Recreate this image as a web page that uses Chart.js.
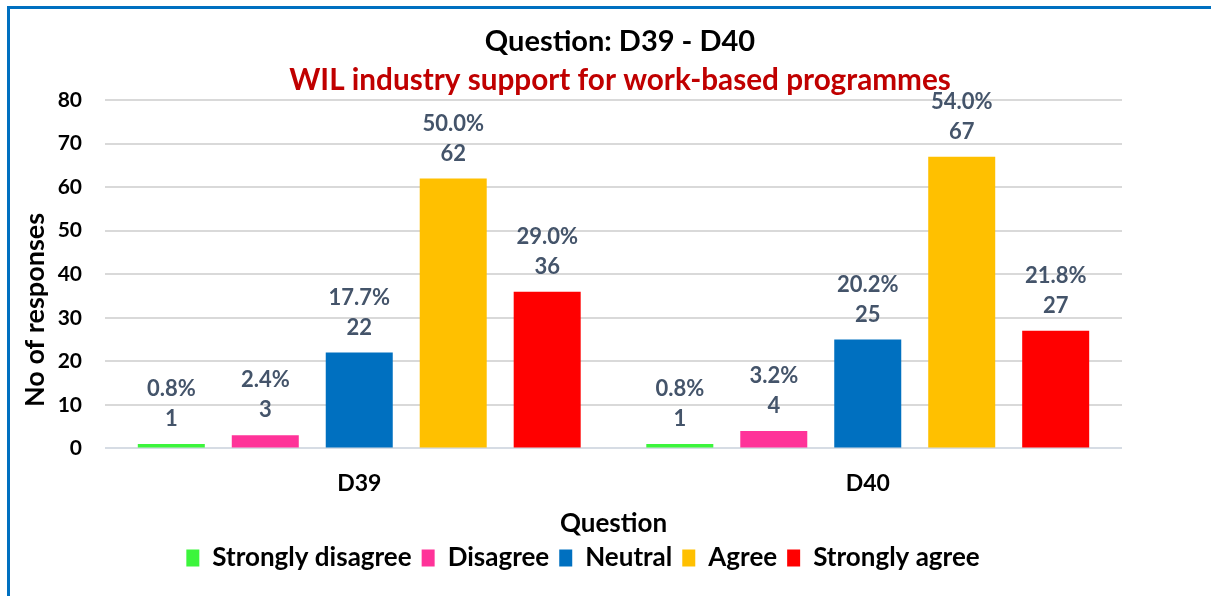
<!DOCTYPE html>
<html>
<head>
<meta charset="utf-8">
<title>WIL industry support for work-based programmes</title>
<script src="https://cdn.jsdelivr.net/npm/chart.js@4.4.1/dist/chart.umd.min.js"></script>
<style>
  html, body { margin: 0; padding: 0; background: #fff; overflow: hidden; }
  #wrap { position: relative; width: 1211px; height: 596px; }
  #frame {
    position: absolute; left: 7px; top: 6px; width: 1210px; height: 600px;
    border-top: 3px solid #0070C0; border-left: 3px solid #0070C0;
    pointer-events: none;
  }
  canvas { position: absolute; left: 0; top: 0; }
</style>
</head>
<body>
<div id="wrap">
  <canvas id="barChart" width="1211" height="596"></canvas>
  <div id="frame"></div>
</div>
<script>
// Questions on the x axis
var questions = ['D39', 'D40'];

// Number of responses per answer, one value per question
var stronglyDisagree = [1, 1];
var disagree = [3, 4];
var neutral = [22, 25];
var agree = [62, 67];
var stronglyAgree = [36, 27];

var yTicks = [0, 10, 20, 30, 40, 50, 60, 70, 80];

var FONT = 'Lato, "Liberation Sans", sans-serif';
var labelColor = '#44546A';

// total responses per question, used for the percentage line of each label
function totals() {
  return questions.map(function(q, i) {
    return stronglyDisagree[i] + disagree[i] + neutral[i] + agree[i] + stronglyAgree[i];
  });
}

// Two-line value labels above each bar: percentage, then count
var barLabels = {
  id: 'barLabels',
  afterDatasetsDraw: function(chart) {
    var ctx = chart.ctx;
    var sums = totals();
    ctx.save();
    ctx.fillStyle = labelColor;
    ctx.font = 'bold 22px ' + FONT;
    ctx.textAlign = 'center';
    ctx.textBaseline = 'middle';
    chart.data.datasets.forEach(function(ds, d) {
      chart.getDatasetMeta(d).data.forEach(function(bar, i) {
        var v = ds.data[i];
        var pct = (v / sums[i] * 100).toFixed(1) + '%';
        ctx.fillText(String(v), bar.x, bar.y - 25);
        ctx.fillText(pct, bar.x, bar.y - 55);
      });
    });
    ctx.restore();
  },
  afterDraw: function(chart) {
    // y axis title sits lower than the middle of the plot
    var ctx = chart.ctx;
    ctx.save();
    ctx.translate(35, 310);
    ctx.rotate(-Math.PI / 2);
    ctx.fillStyle = '#000';
    ctx.font = 'bold 27px ' + FONT;
    ctx.textAlign = 'center';
    ctx.textBaseline = 'middle';
    ctx.fillText('No of responses', 0, 0);
    ctx.restore();
  }
};

// Title and legend are not centred on the canvas, move them sideways
var placeBoxes = {
  id: 'placeBoxes',
  afterLayout: function(chart) {
    chart.boxes.forEach(function(box) {
      var dx = 0, dy = 0;
      if (box === chart.legend) {
        dx = 17; dy = -6;
      } else if (box.options && box.options.position === 'top' && !box.axis) {
        dx = 54;
      }
      box.left += dx; box.right += dx;
      box.top += dy; box.bottom += dy;
    });
  }
};

var ctx = document.getElementById('barChart').getContext('2d');
var barChart = new Chart(ctx, {
  type: 'bar',
  data: {
    labels: questions,
    datasets: [
      { label: 'Strongly disagree', data: stronglyDisagree, backgroundColor: '#3CF53C' },
      { label: 'Disagree', data: disagree, backgroundColor: '#FF3399' },
      { label: 'Neutral', data: neutral, backgroundColor: '#0070C0' },
      { label: 'Agree', data: agree, backgroundColor: '#FFC000' },
      { label: 'Strongly agree', data: stronglyAgree, backgroundColor: '#FF0000' }
    ]
  },
  options: {
    responsive: false,
    animation: false,
    categoryPercentage: 0.924,
    barPercentage: 0.713,
    layout: { padding: { left: 10, right: 89, top: 0, bottom: 9 } },
    plugins: {
      title: {
        display: true,
        text: 'Question: D39 - D40',
        color: '#000',
        font: { family: FONT, size: 29, weight: 'bold' },
        padding: { top: 24.6, bottom: 0 }
      },
      subtitle: {
        display: true,
        text: 'WIL industry support for work-based programmes',
        color: '#C00000',
        font: { family: FONT, size: 29.7, weight: 'bold' },
        padding: { top: 2.8, bottom: 2.2 }
      },
      legend: {
        position: 'bottom',
        labels: {
          color: '#000',
          font: { family: FONT, size: 26, weight: 'bold' },
          boxWidth: 13,
          boxHeight: 17,
          padding: 10
        }
      },
      tooltip: { enabled: false }
    },
    scales: {
      x: {
        grid: { display: false, drawTicks: false },
        border: { display: false },
        ticks: {
          color: '#000',
          padding: 21.2,
          font: { family: FONT, size: 23, weight: 'bold' }
        },
        title: {
          display: true,
          text: 'Question',
          color: '#000',
          font: { family: FONT, size: 26, weight: 'bold' },
          padding: { top: -10, bottom: 1.4 }
        }
      },
      y: {
        min: yTicks[0],
        max: yTicks[yTicks.length - 1],
        afterBuildTicks: function(scale) {
          scale.ticks = yTicks.map(function(v) { return { value: v }; });
        },
        afterFit: function(scale) {
          scale.width = 95;
        },
        grid: {
          drawTicks: false,
          lineWidth: 2,
          color: function(c) { return c.tick && c.tick.value === 0 ? '#D6DCE4' : '#D9D9D9'; }
        },
        border: { display: false },
        ticks: {
          color: '#000',
          padding: 23,
          font: { family: FONT, size: 21, weight: 'bold' }
        }
      }
    }
  },
  plugins: [barLabels, placeBoxes]
});
</script>
</body>
</html>
